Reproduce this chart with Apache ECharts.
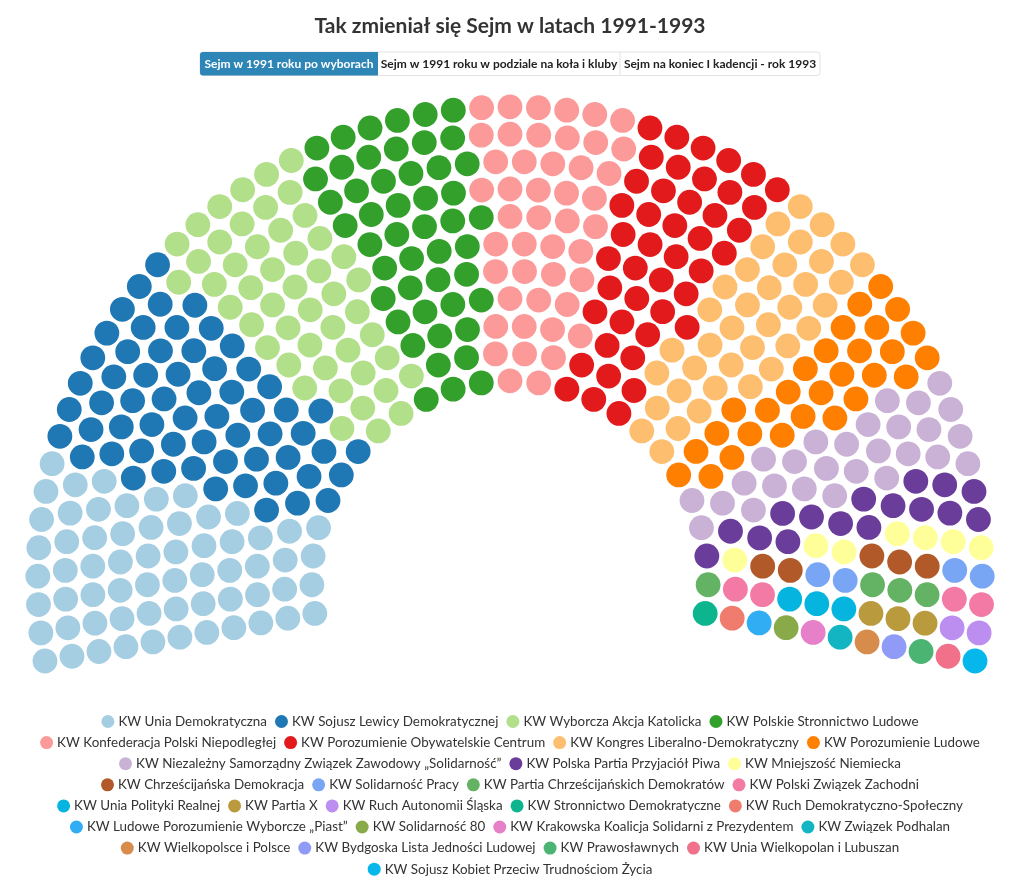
<!DOCTYPE html>
<html>
<head>
<meta charset="utf-8">
<script src="https://cdn.jsdelivr.net/npm/echarts@6/dist/echarts.min.js"></script>
<style>
html,body{margin:0;padding:0;background:#ffffff;}
#chart{width:1020px;height:891px;}
</style>
</head>
<body>
<div id="chart"></div>
<script>
// ---- DATA ----
const titleText = 'Tak zmieniał się Sejm w latach 1991-1993';
const buttonLabels = [
  'Sejm w 1991 roku po wyborach',
  'Sejm w 1991 roku w podziale na koła i kluby',
  'Sejm na koniec I kadencji - rok 1993'
];
const parties = [
  'KW Unia Demokratyczna',
  'KW Sojusz Lewicy Demokratycznej',
  'KW Wyborcza Akcja Katolicka',
  'KW Polskie Stronnictwo Ludowe',
  'KW Konfederacja Polski Niepodległej',
  'KW Porozumienie Obywatelskie Centrum',
  'KW Kongres Liberalno-Demokratyczny',
  'KW Porozumienie Ludowe',
  'KW Niezależny Samorządny Związek Zawodowy „Solidarność”',
  'KW Polska Partia Przyjaciół Piwa',
  'KW Mniejszość Niemiecka',
  'KW Chrześcijańska Demokracja',
  'KW Solidarność Pracy',
  'KW Partia Chrześcijańskich Demokratów',
  'KW Polski Związek Zachodni',
  'KW Unia Polityki Realnej',
  'KW Partia X',
  'KW Ruch Autonomii Śląska',
  'KW Stronnictwo Demokratyczne',
  'KW Ruch Demokratyczno-Społeczny',
  'KW Ludowe Porozumienie Wyborcze „Piast”',
  'KW Solidarność 80',
  'KW Krakowska Koalicja Solidarni z Prezydentem',
  'KW Związek Podhalan',
  'KW Wielkopolsce i Polsce',
  'KW Bydgoska Lista Jedności Ludowej',
  'KW Prawosławnych',
  'KW Unia Wielkopolan i Lubuszan',
  'KW Sojusz Kobiet Przeciw Trudnościom Życia'
];
const seats = [62, 60, 49, 48, 46, 44, 37, 28, 27, 16, 7, 5, 4, 4, 4, 3, 3, 2, 1, 1, 1, 1, 1, 1, 1, 1, 1, 1, 1];

// ---- STYLE ----
const partyColors = [
  '#a6cee3', '#1f78b4', '#b2df8a', '#33a02c', '#fb9a99', '#e31a1c', '#fdbf6f', '#ff7f00',
  '#cab2d6', '#6a3d9a', '#ffff99', '#b15928', '#78a6f5', '#64b264', '#f27aa4', '#05b5df',
  '#b99a3d', '#bb8ef0', '#0db58e', '#ef7c6d', '#30adf3', '#89aa48', '#e680c9', '#14b5c2',
  '#d78c4c', '#8f9bf6', '#4bb472', '#f07189', '#05b7ea'
];
const legendRows = [[0,1,2,3],[4,5,6,7],[8,9,10],[11,12,13,14],[15,16,17,18,19],[20,21,22,23],[24,25,26,27],[28]];
const FONT = 'Lato, "Noto Sans", sans-serif';

// ---- LAYOUT (parliament arc, item-chart style slot filling) ----
const DIAMETER = 972.4, INNER_SIZE = 341.6, START = -100, END = 100;
function parliamentSlots(total) {
  const full = (END - START) * Math.PI / 180;
  const rowFraction = (DIAMETER - INNER_SIZE) / DIAMETER;
  let itemSize = 0, itemCount = Infinity, finalItemCount = Infinity, rows = null, testRows = null;
  while (itemCount > total) {
    finalItemCount = itemCount;
    itemCount = 0;
    rows = testRows;
    testRows = [];
    itemSize++;
    const rowCount = Math.floor(DIAMETER / itemSize / 2 * rowFraction);
    for (let row = rowCount; row > 0; row--) {
      const rowRadius = (INNER_SIZE + (row / rowCount) * (DIAMETER - INNER_SIZE - itemSize)) / 2;
      const rowLength = full * rowRadius;
      const colCount = Math.ceil(rowLength / itemSize);
      testRows.push({ rowRadius, rowLength, colCount });
      itemCount += colCount + 1;
    }
  }
  let over = finalItemCount - total;
  while (over > 0) {
    rows.map(row => ({ a: row.colCount / row.rowLength, row }))
      .sort((a, b) => b.a - a.a)
      .slice(0, Math.min(over, Math.ceil(rows.length / 2)))
      .forEach(o => { if (over > 0) { o.row.colCount--; over--; } });
  }
  const slots = [];
  rows.forEach(row => {
    for (let c = 0; c <= row.colCount; c++)
      slots.push({ r: row.rowRadius, ang: START + c * (END - START) / row.colCount });
  });
  slots.sort((a, b) => (Math.abs(a.ang - b.ang) < 1e-9 ? a.r - b.r : a.ang - b.ang));
  return slots;
}
const totalSeats = seats.reduce((a, b) => a + b, 0);
const slots = parliamentSlots(totalSeats);

let offset = 0;
const series = parties.map((name, i) => {
  const data = slots.slice(offset, offset + seats[i]).map(sl => [sl.r, sl.ang - START]);
  offset += seats[i];
  return {
    name, type: 'scatter', coordinateSystem: 'polar', data,
    symbol: 'circle', symbolSize: 24.8,
    itemStyle: { color: partyColors[i], opacity: 1 },
    emphasis: { disabled: true }, silent: true
  };
});

// ---- BUTTONS ----
const btnX = [200, 378, 620, 820], btnY = 52, btnH = 23.5;
const graphics = [
  { type: 'rect', shape: { x: btnX[0], y: btnY, width: btnX[3] - btnX[0], height: btnH, r: 3 },
    style: { fill: '#fff', stroke: '#e3e3e3', lineWidth: 1 } },
  { type: 'rect', shape: { x: btnX[0], y: btnY, width: btnX[1] - btnX[0], height: btnH, r: [3, 0, 0, 3] },
    style: { fill: '#2e86b6' } },
  { type: 'line', shape: { x1: btnX[2], y1: btnY, x2: btnX[2], y2: btnY + btnH },
    style: { stroke: '#e3e3e3', lineWidth: 1 } }
];
buttonLabels.forEach((lbl, i) => {
  graphics.push({
    type: 'text', x: (btnX[i] + btnX[i + 1]) / 2, y: btnY + btnH / 2,
    style: { text: lbl, fill: i === 0 ? '#ffffff' : '#222222', font: 'bold 12px ' + FONT,
      textAlign: 'center', textVerticalAlign: 'middle' }
  });
});

const chart = echarts.init(document.getElementById('chart'), null, { renderer: 'canvas' });
chart.setOption({
  animation: false,
  backgroundColor: '#ffffff',
  title: {
    text: titleText, left: 'center', top: 11,
    textStyle: { fontFamily: FONT, fontSize: 21, fontWeight: 'bold', color: '#333333' }
  },
  polar: { center: [510, 579], radius: 500 },
  radiusAxis: { type: 'value', min: 0, max: 500, show: false, splitLine: { show: false } },
  angleAxis: { type: 'value', min: 0, max: 360, startAngle: 190, clockwise: true, show: false, splitLine: { show: false } },
  legend: legendRows.map((row, k) => ({
    data: row.map(i => parties[i]),
    left: 'center', top: 715 + k * 21.1, orient: 'horizontal', padding: 0,
    icon: 'circle', itemWidth: 13, itemHeight: 13, itemGap: 8,
    selectedMode: false,
    textStyle: { fontFamily: FONT, fontSize: 13.4, color: '#333333', padding: [0, 0, 0, -1] }
  })),
  graphic: graphics,
  series
});
</script>
</body>
</html>
